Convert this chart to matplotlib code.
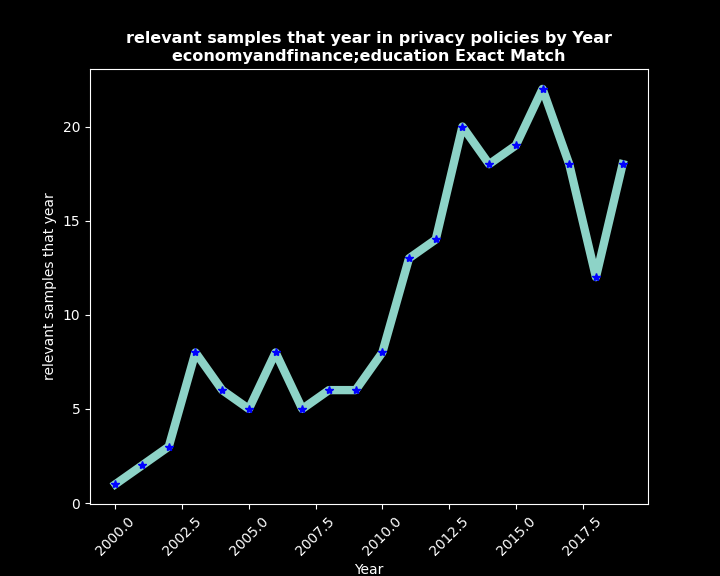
import matplotlib
matplotlib.use('Agg')
from matplotlib import pyplot as plt

years = [2000, 2001, 2002, 2003, 2004, 2005, 2006, 2007, 2008, 2009,
         2010, 2011, 2012, 2013, 2014, 2015, 2016, 2017, 2018, 2019]
counts = [1, 2, 3, 8, 6, 5, 8, 5, 6, 6, 8, 13, 14, 20, 18, 19, 22, 18, 12, 18]

plt.style.use('dark_background')
fig = plt.figure(figsize=(7.2, 5.76), dpi=100)
ax = fig.add_subplot(1, 1, 1)
ax.plot(years, counts, color='#8dd3c7', linewidth=6, marker='*',
        markerfacecolor='blue', markeredgecolor='blue', markersize=6)
ax.set_title('relevant samples that year in privacy policies by Year\n'
             'economyandfinance;education Exact Match',
             fontsize=11.5, fontweight='bold')
ax.set_xlabel('Year')
ax.set_ylabel('relevant samples that year')
plt.xticks(rotation=45)
fig.subplots_adjust(left=0.125, right=0.9, top=0.88, bottom=0.125)
fig.savefig('out.png')
